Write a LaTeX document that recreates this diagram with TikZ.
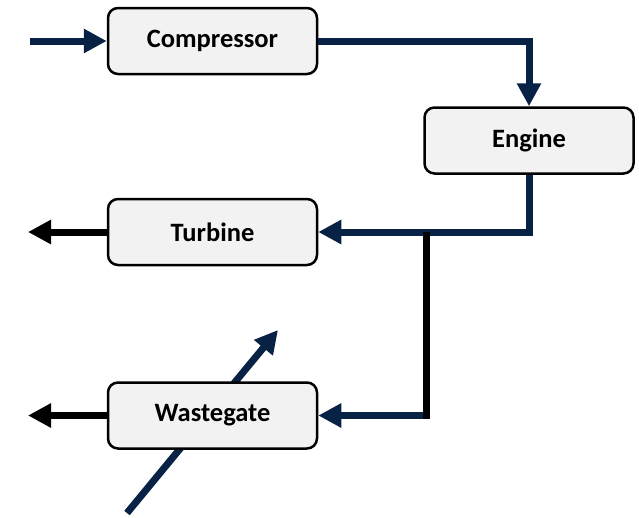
\documentclass[tikz,border=0pt]{standalone}
\usepackage{fontspec}
\setmainfont{Carlito}
\usetikzlibrary{arrows.meta}
\definecolor{navy}{RGB}{8,34,70}
\definecolor{boxfill}{RGB}{242,242,242}
\begin{document}
\begin{tikzpicture}[x=1pt,y=-1pt,
  blk/.style={draw=black, line width=2.5pt, fill=boxfill, rounded corners=10pt,
    minimum width=209pt, minimum height=66pt, inner sep=0pt,
    font=\fontsize{26.5}{30}\selectfont\bfseries},
  navyline/.style={draw=navy, line width=7pt},
  blackline/.style={draw=black, line width=7pt},
  tip/.style={-{Triangle[length=23pt,width=23pt]}}
]
\useasboundingbox (0,0) rectangle (639,517);
% diagonal arrow (behind wastegate)
\coordinate (d0) at (127,513);
\coordinate (d1) at (278,330);
\draw[navyline, tip] (d0) -- (d1);

\node[blk] (comp) at (212.5,41) {Compressor};
\node[blk] (eng) at (529,140.5) {Engine};
\node[blk] (turb) at (212.5,232) {Turbine};
\node[blk] (wg) at (212.5,415.5) {Wastegate};

\coordinate (in) at (30,41);
\coordinate (tout) at (28,232);
\coordinate (wout) at (28,415.5);
\coordinate (j1) at (426,232);
\coordinate (j2) at (426,415.5);
\coordinate (j3) at (426,419);

\draw[navyline, tip] (in) -- (comp.west);
\draw[navyline, tip] (comp.east) -| (eng.north);
\draw[navyline, tip] (eng.south) |- (turb.east);
\draw[navyline, tip] (j2) -- (wg.east);
\draw[blackline] (j1) -- (j3);
\draw[blackline, tip] (turb.west) -- (tout);
\draw[blackline, tip] (wg.west) -- (wout);
\end{tikzpicture}
\end{document}
